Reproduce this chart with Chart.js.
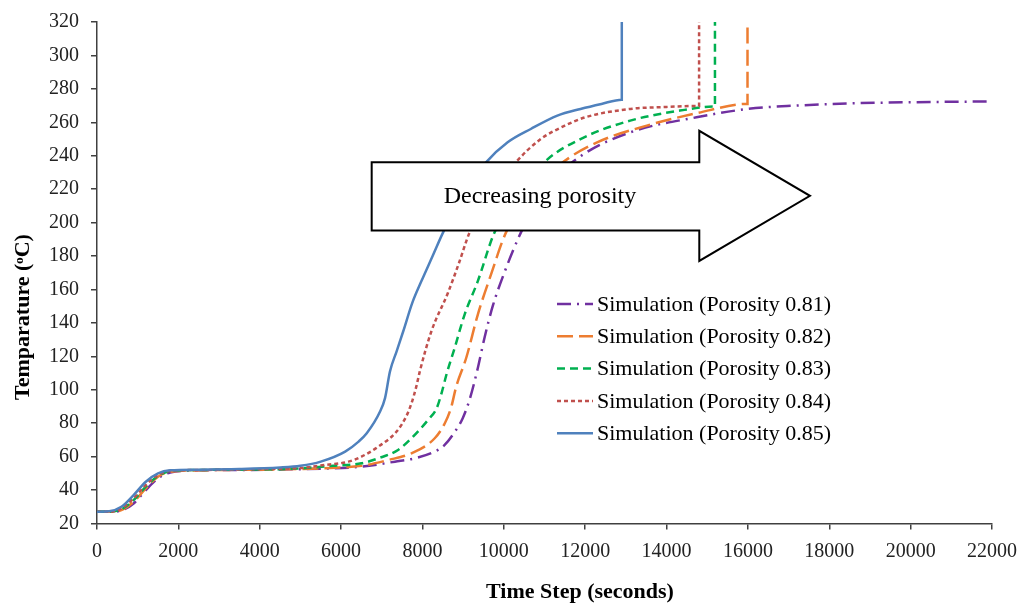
<!DOCTYPE html>
<html>
<head>
<meta charset="utf-8">
<script src="https://cdn.jsdelivr.net/npm/chart.js@4.4.1/dist/chart.umd.min.js"></script>
<style>
  html, body { margin: 0; padding: 0; background: #fff; }
  #wrap { width: 1020px; height: 606px; }
</style>
</head>
<body>
<div id="wrap"><canvas id="temp-chart" width="1020" height="606"></canvas></div>
<script>
// values (time in s, temperature in degC)
let seriesLabels = ["Simulation (Porosity 0.81)", "Simulation (Porosity 0.82)", "Simulation (Porosity 0.83)",
                    "Simulation (Porosity 0.84)", "Simulation (Porosity 0.85)"];

let time81 = [0, 300, 600, 900, 1200, 1500, 1800, 2500, 3500, 4500, 5500, 6500, 7325, 7813, 8300, 8546, 8800, 8990, 9157, 9361, 9524, 9727, 10012, 10419, 11000, 11844, 13108, 14737, 16000, 17183, 18500, 20000, 22000];
let temp81 = [27, 27, 27.8, 32, 40, 47, 50.5, 51.8, 52, 52.3, 52.8, 54, 57, 59, 63, 67, 75, 83, 94, 113, 131, 150, 170, 194, 220, 239, 254, 263, 268, 270, 271.3, 272, 272.5];

let time82 = [0, 300, 600, 900, 1200, 1500, 1800, 2500, 3500, 4500, 5500, 6500, 7161, 7731, 8302, 8550, 8700, 8831, 9075, 9361, 9686, 10052, 10700, 11396, 12293, 13515, 14737, 15990, 15990];
let temp82 = [27, 27, 28, 33, 41, 48, 51, 51.8, 52.1, 52.4, 53, 54.5, 58, 62, 71, 80, 89, 102, 119, 145, 169, 194, 218, 235, 248, 258, 265.4, 271, 320];

let time83 = [0, 300, 600, 900, 1200, 1500, 1800, 2500, 3500, 4500, 5000, 5800, 6500, 6917, 7400, 7731, 8139, 8350, 8470, 8600, 8791, 9036, 9361, 9769, 10400, 10990, 11885, 13108, 14330, 15190, 15190];
let temp83 = [27, 27, 28.5, 34, 42, 48.5, 51.3, 52, 52.2, 52.5, 53, 54.5, 56, 59, 64, 71, 82, 89, 98, 110, 125, 145, 165, 194, 218, 236, 250, 261, 267, 269.4, 320];

let time84 = [0, 300, 600, 900, 1200, 1500, 1800, 2500, 3500, 4500, 5000, 5600, 6183, 6500, 6917, 7364, 7600, 7731, 7850, 7935, 8220, 8627, 8900, 9157, 9700, 10256, 10908, 11500, 12000, 13108, 14000, 14800, 14800];
let temp84 = [27, 27, 29, 35, 43, 49, 51.5, 52, 52.3, 52.8, 53.2, 55, 57, 60, 66, 75, 84, 92, 102, 111, 135, 158, 176, 194, 217, 235, 250, 258, 263, 268, 269.2, 269.8, 320];

let time85 = [0, 300, 600, 900, 1200, 1500, 1800, 2500, 3500, 4500, 5000, 5500, 6100, 6430, 6630, 6958, 7080, 7202, 7365, 7528, 7750, 7975, 8250, 8505, 9000, 9563, 10094, 10663, 11316, 11885, 12400, 12900, 12900];
let temp85 = [27, 27.3, 30, 37, 45, 50, 51.8, 52.2, 52.6, 53.5, 54.5, 57, 63, 69, 74, 87, 95, 111, 123, 135, 152, 165, 180, 194, 217, 236, 248, 256, 264, 268, 271, 273.5, 320];

let seriesColors = ["#7030A0", "#ED7D31", "#00B050", "#C0504D", "#4F81BD"];
let seriesDashes = [[14, 6, 2, 6], [16, 6], [8, 5], [4, 3], []];

let serif = '"Liberation Serif", "Times New Roman", serif';

function toPoints(xs, ys) {
    return xs.map((x, i) => ({ x: x, y: ys[i] }));
}

let allTimes = [time81, time82, time83, time84, time85];
let allTemps = [temp81, temp82, temp83, temp84, temp85];

let datasets = seriesLabels.map((label, i) => ({
    label: label,
    data: toPoints(allTimes[i], allTemps[i]),
    borderColor: seriesColors[i],
    backgroundColor: seriesColors[i],
    borderDash: seriesDashes[i],
    borderWidth: 2.5,
    pointRadius: 0,
    showLine: true,
    fill: false,
    cubicInterpolationMode: "monotone",
    order: 5 - i
}));

// big white arrow, in data units
let arrowBox = { x0: 6752, xHead: 14805, xTip: 17525, bodyTop: 236.1, bodyBottom: 195.2, headTop: 254.9, headBottom: 177.1, tipY: 216 };
let arrowText = { text: "Decreasing porosity", x: 10889, y: 215.6 };

let arrowPlugin = {
    id: "arrow",
    afterDatasetsDraw(chart) {
        let ctx = chart.ctx, sx = chart.scales.x, sy = chart.scales.y;
        let px = v => sx.getPixelForValue(v), py = v => sy.getPixelForValue(v);
        ctx.save();
        ctx.beginPath();
        ctx.moveTo(px(arrowBox.x0), py(arrowBox.bodyTop));
        ctx.lineTo(px(arrowBox.xHead), py(arrowBox.bodyTop));
        ctx.lineTo(px(arrowBox.xHead), py(arrowBox.headTop));
        ctx.lineTo(px(arrowBox.xTip), py(arrowBox.tipY));
        ctx.lineTo(px(arrowBox.xHead), py(arrowBox.headBottom));
        ctx.lineTo(px(arrowBox.xHead), py(arrowBox.bodyBottom));
        ctx.lineTo(px(arrowBox.x0), py(arrowBox.bodyBottom));
        ctx.closePath();
        ctx.fillStyle = "#fff";
        ctx.fill();
        ctx.lineWidth = 2;
        ctx.strokeStyle = "#000";
        ctx.lineJoin = "miter";
        ctx.stroke();
        ctx.fillStyle = "#000";
        ctx.font = "24px " + serif;
        ctx.textAlign = "center";
        ctx.textBaseline = "middle";
        ctx.fillText(arrowText.text, px(arrowText.x), py(arrowText.y));
        ctx.restore();
    }
};

let legendPlugin = {
    id: "insideLegend",
    afterDraw(chart) {
        let ctx = chart.ctx, area = chart.chartArea;
        let left = area.left + 460, top = area.top + 282, rowGap = 32.3;
        ctx.save();
        ctx.font = "22px " + serif;
        ctx.textBaseline = "middle";
        ctx.textAlign = "left";
        seriesLabels.forEach((label, i) => {
            let y = top + i * rowGap;
            ctx.beginPath();
            ctx.setLineDash(seriesDashes[i]);
            ctx.strokeStyle = seriesColors[i];
            ctx.lineWidth = 2.5;
            ctx.moveTo(left, y);
            ctx.lineTo(left + 36, y);
            ctx.stroke();
            ctx.setLineDash([]);
            ctx.fillStyle = "#000";
            ctx.fillText(label, left + 40, y + 1);
        });
        ctx.restore();
    }
};

let axisTitlePlugin = {
    id: "axisTitles",
    afterDraw(chart) {
        let ctx = chart.ctx, area = chart.chartArea;
        ctx.save();
        ctx.fillStyle = "#000";
        ctx.font = "bold 22px " + serif;
        ctx.textAlign = "center";
        ctx.textBaseline = "middle";
        ctx.fillText("Time Step (seconds)", area.left + 483, chart.height - 14);
        ctx.translate(23, area.top + 295);
        ctx.rotate(-Math.PI / 2);
        ctx.fillText("Temparature (\u1D52C)", 0, 0);
        ctx.restore();
    }
};

let tempChart = new Chart(document.getElementById("temp-chart").getContext("2d"), {
    type: "scatter",
    data: { datasets: datasets },
    options: {
        responsive: false,
        animation: false,
        devicePixelRatio: 1,
        layout: { padding: { top: 22, right: 28, left: 0, bottom: 0 } },
        plugins: {
            legend: { display: false },
            tooltip: { enabled: false }
        },
        scales: {
            x: {
                type: "linear",
                min: 0,
                max: 22000,
                afterFit: s => { s.height = 82.5; s.paddingRight = 0; s.paddingLeft = 0; },
                ticks: { stepSize: 2000, padding: 10, color: "#222", font: { family: serif, size: 20 }, maxRotation: 0,
                         callback: v => String(v) },
                grid: { drawOnChartArea: false, drawTicks: true, tickLength: 6, color: "#404040", lineWidth: 1.5 },
                border: { display: true, color: "#404040", width: 1.5 }
            },
            y: {
                min: 20,
                max: 320,
                afterFit: s => { s.width = 97; s.paddingTop = 0; s.paddingBottom = 0; },
                ticks: { stepSize: 20, padding: 12, color: "#222", font: { family: serif, size: 20 } },
                grid: { drawOnChartArea: false, drawTicks: true, tickLength: 6, color: "#404040", lineWidth: 1.5 },
                border: { display: true, color: "#404040", width: 1.5 }
            }
        }
    },
    plugins: [arrowPlugin, legendPlugin, axisTitlePlugin]
});
</script>
</body>
</html>
